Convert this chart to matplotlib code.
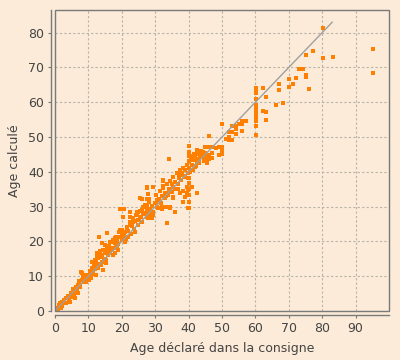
import matplotlib
matplotlib.use("Agg")
import matplotlib.pyplot as plt
from matplotlib.patches import Rectangle

# declared age (x) vs computed age (y)
band_x = [0.5, 1, 1.2, 1.8, 2, 2.2, 2.6, 3, 3.2, 4, 4.2, 4.8, 5, 5.4, 5.8, 6.2, 6.6, 7, 7.2, 7.6,
          8, 8.2, 8.6, 9, 9.4, 10, 10.2, 10.6, 11, 11.2, 11.6, 12, 12.2, 12.6, 13, 13.2, 13.6, 14,
          14.2, 14.6, 15, 15.2, 15.6, 16, 16.2, 16.6, 17, 17.4, 17.8, 18, 18.2, 18.6, 19, 19.2, 19.6,
          20, 20.2, 20.6, 21, 21.2, 21.6, 22, 22.4, 22.8, 23, 23.4, 23.8, 24, 24.4, 24.8, 25, 25.4,
          25.8, 26, 26.4, 26.8, 27, 27.4, 27.8, 28, 28.4, 28.8, 29, 29.4, 30, 30.2, 30.6, 31, 31.4,
          31.8, 32, 32.4, 32.8, 33, 33.4, 33.8, 34, 34.4, 34.8, 35, 35.4, 35.8, 36, 36.4, 36.8, 37,
          37.4, 37.8, 38, 38.4, 38.8, 39, 39.4, 39.8, 40, 40.2, 40.4, 40.6, 41, 41.4, 41.8, 42, 42.4,
          42.8, 43, 43.4, 43.8, 44, 44.4, 44.8, 45]
band_y = [0.2, 0.5, 1.6, 1.0, 2.5, 1.4, 3.2, 2.4, 3.8, 4.3, 3.2, 5.2, 4.0, 6.3, 5.0, 7.0, 6.0, 7.6, 8.6, 6.8,
          9.0, 10.8, 8.3, 9.6, 10.4, 10.2, 9.0, 11.6, 12.4, 10.6, 13.0, 12.0, 14.0, 15.6, 13.4, 16.4, 17.2, 14.2,
          16.0, 15.0, 16.6, 14.6, 17.8, 16.2, 18.8, 19.8, 17.4, 20.4, 18.0, 19.6, 21.2, 20.0, 19.2, 22.6, 21.4,
          20.4, 23.4, 21.8, 22.6, 20.8, 24.2, 23.0, 25.6, 22.2, 24.4, 26.8, 23.6, 25.8, 27.6, 24.6, 26.2, 28.6,
          27.0, 25.6, 29.8, 27.8, 30.6, 28.4, 26.8, 31.4, 29.2, 27.6, 30.2, 28.4, 31.0, 33.4, 29.8, 32.2, 34.6,
          31.0, 33.0, 35.8, 32.6, 34.0, 36.4, 33.4, 35.2, 37.4, 34.2, 36.4, 38.6, 35.2, 37.0, 39.6, 36.6, 38.2,
          40.4, 37.6, 39.2, 41.2, 38.4, 40.4, 42.0, 39.6, 41.0, 43.0, 40.0, 44.2, 42.0, 43.4, 41.4, 44.0, 42.8,
          45.2, 43.6, 44.8, 46.0, 44.2, 45.6, 47.0, 45.4]

low_x = [14.4, 15.9, 16.9, 18.4, 17.9, 18.9, 13.4, 12.4, 13.9, 15.4, 12.9, 14.4, 12.4, 10.9, 9.4, 8.4,
         7.9, 7.4, 6.4, 5.4, 4.9, 3.9, 2.4, 1.4, 0.4, 0.9, 1.4, 3.4, 5.9, 6.9, 4.4, 9.9, 11.4, 12.4,
         13.2, 15.5, 19.5, 20.2, 21.5, 22.5, 23.4, 24.9, 20.0, 21.0, 22.0, 24.0, 14.0, 15.0, 16.0, 17.0,
         17.9, 18.5, 16.5, 17.5, 12.5, 13.0, 14.0, 11.0, 12.0, 26.0, 27.4, 20.7, 24.5, 26.0, 27.4, 28.4, 29.4]
low_y = [17.5, 17.0, 18.0, 18.5, 16.6, 17.5, 16.1, 14.7, 13.2, 13.7, 12.3, 11.8, 10.3, 9.4, 8.4, 9.9,
         11.3, 7.5, 6.5, 5.5, 4.6, 3.6, 2.7, 1.2, 0.3, 0.8, 2.2, 2.2, 3.6, 5.1, 2.7, 10.3, 11.3, 13.2,
         21.2, 22.3, 23.3, 22.3, 23.8, 24.7, 25.7, 26.1, 20.9, 19.9, 21.4, 22.8, 19.5, 19.0, 18.5, 19.9,
         20.9, 18.0, 16.6, 16.1, 16.6, 15.1, 15.6, 14.2, 14.7, 32.1, 32.1, 29.3, 28.5, 29.0, 29.5, 28.1, 27.6]

mid_x = [36.4, 37.2, 37.2, 38.0, 38.9, 39.9, 39.9, 32.2, 34.9, 35.4, 36.9, 38.4, 39.4, 39.4, 27.4, 32.2,
         33.9, 33.1, 35.4, 38.4, 25.4, 27.9, 28.2, 27.4, 30.2, 30.9, 31.9, 33.1, 34.4, 22.5, 24.9, 24.5,
         26.4, 27.4, 29.0, 29.4, 19.5, 20.4, 22.5, 25.4, 27.4, 29.4, 32.4, 30.4, 32.9, 33.4, 34.9, 35.4,
         37.4, 38.9, 39.9, 40.9, 42.4, 35.9, 33.4, 39.9, 38.4, 31.9, 34.4, 34.2, 40.2, 41.2, 42.0,
         40, 40, 40, 40, 40, 40, 40, 40, 40, 41.6, 42.6, 43.2, 41.2, 42.2, 43.8, 44.6]
mid_y = [39.6, 39.6, 38.8, 39.6, 38.8, 39.6, 38.1, 37.4, 36.5, 35.7, 35.2, 34.6, 35.7, 33.8, 35.5, 35.4,
         33.8, 33.0, 32.8, 31.4, 32.4, 33.6, 32.1, 30.5, 30.9, 29.5, 29.2, 30.0, 29.5, 28.5, 28.5, 27.6,
         28.1, 27.1, 26.6, 27.6, 29.2, 27.1, 27.1, 27.1, 35.3, 35.7, 37.6, 31.9, 32.4, 33.3, 34.3, 32.4,
         33.8, 32.8, 34.8, 35.7, 33.8, 28.5, 25.4, 29.5, 31.4, 30.0, 30.0, 43.6, 47.4, 44.5, 45.0,
         29.6, 31.4, 33.2, 35.0, 36.8, 38.2, 44.4, 45.6, 47.4, 45.2, 46.2, 42.4, 40.6, 41.6, 45.4, 43.2]

high_x = [45.4, 46.2, 47.1, 48.3, 49.2, 50.1, 50.1, 50.1, 49.2, 47.1, 46.2, 45.4, 45.4, 44.4, 43.4, 45.4,
          47.1, 46.2, 50.1, 46.2, 53.1, 54.3, 55.2, 56.1, 56.1, 57.3, 52.2, 53.1, 54.3, 52.2, 53.1, 52.2,
          51.3, 54.3, 56.1,
          60.3, 60.3, 60.3, 60.3, 60.3, 60.3, 60.3, 60.3, 60.3, 60.3, 60.3, 60.3, 60.3, 60.3, 60.3,
          62.4, 63.3, 63.3, 62.4, 63.3, 66.3, 68.4, 67.2, 70.1, 67.2, 71.3, 70.1, 72.2, 75.2, 75.2, 76.1,
          73.1, 74.3, 75.2, 77.3, 80.3, 83.3, 80.3, 95.3, 95.3]
high_y = [47.2, 47.2, 47.2, 46.8, 47.2, 47.2, 46.3, 45.0, 44.8, 45.3, 44.8, 44.3, 42.4, 44.3, 45.3, 43.4,
          43.9, 43.6, 53.6, 50.2, 53.2, 53.2, 53.6, 54.5, 53.7, 54.5, 51.5, 51.5, 52.2, 50.1, 49.1, 49.1,
          49.3, 50.8, 51.6,
          64.0, 63.5, 62.6, 60.8, 59.1, 58.5, 57.9, 57.4, 56.8, 56.2, 55.7, 55.1, 54.5, 53.1, 50.5,
          57.4, 57.1, 54.8, 64.0, 61.4, 59.1, 59.7, 63.4, 64.3, 65.1, 65.1, 66.6, 67.1, 67.2, 67.8, 63.7,
          69.5, 69.5, 73.5, 74.6, 72.6, 72.9, 81.2, 75.2, 68.3]

ages_x = band_x + low_x + mid_x + high_x
ages_y = band_y + low_y + mid_y + high_y

bg = "#fbebd8"
edge = "#7a7a7a"

fig = plt.figure(figsize=(4, 3.6), dpi=100, facecolor=bg)
ax = fig.add_axes([55 / 400, 49 / 360, 334 / 400, 301 / 360])
ax.set_facecolor(bg)

ax.grid(True, color="#b9b2a8", linestyle=(0, (2, 2)), linewidth=0.8)
ax.set_axisbelow(True)

ax.scatter(ages_x, ages_y, marker="s", s=5, color="#ff8000", linewidths=0, zorder=2)
ax.plot([0, 83], [0, 83], color="#a0a0a0", linewidth=1.0, zorder=3)

ax.set_xlim(0, 100)
ax.set_ylim(0, 86.5)
ax.set_xticks(range(0, 100, 10))
ax.set_yticks(range(0, 90, 10))

# plot border + offset axis lines
ax.add_patch(Rectangle((0, 0), 1, 1, transform=ax.transAxes, fill=False,
                       edgecolor=edge, linewidth=1.0, clip_on=False, zorder=4))
for side in ["top", "right"]:
    ax.spines[side].set_visible(False)
for side in ["left", "bottom"]:
    ax.spines[side].set_position(("outward", 3))
    ax.spines[side].set_color(edge)
    ax.spines[side].set_linewidth(1.0)

ax.tick_params(length=2, width=0.8, color=edge, labelsize=9, labelcolor="#444444", pad=3)
ax.set_xlabel("Age déclaré dans la consigne", fontsize=9, color="#444444", labelpad=5)
ax.set_ylabel("Age calculé", fontsize=9, color="#444444", labelpad=5)

fig.savefig("out.png", dpi=100, facecolor=bg)
